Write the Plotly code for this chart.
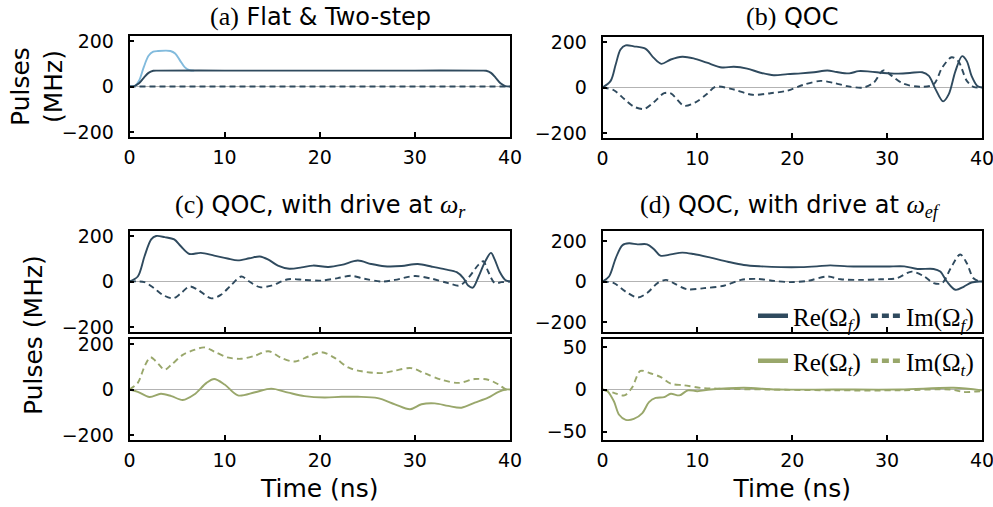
import plotly.graph_objects as go

# ---------------- data ----------------
# (a) Flat & Two-step
t_flat = [0, 0.5, 1.0, 1.5, 2.0, 2.5, 3.0, 10, 20, 30, 37.0, 37.5, 38.0, 38.5, 39.0, 39.5, 40.0]
flat_re = [0, 2, 14, 38, 60, 69, 70, 70, 70, 70, 70, 69, 60, 38, 14, 2, 0]
t_two = [0, 0.6, 1.0, 1.5, 2.0, 2.5, 3.0, 4.3, 4.8, 5.3, 5.8, 6.3, 6.8]
two_re = [0, 3, 25, 85, 135, 153, 156, 156, 145, 115, 85, 72, 70]
t_im_a = [0, 40]
im_a = [0, 0]

# (b) QOC
t_b_re = [0, 0.86, 1.39, 1.9, 2.44, 3.3, 4.55, 5.4, 6.2, 7.2, 8.4, 9.6, 11.0, 12.6, 13.85,
          15.25, 16.65, 18.05, 19.5, 20.9, 22.3, 23.7, 24.7, 26.0, 27.0, 28.2, 29.6, 31.0,
          32.4, 33.7, 34.4, 35.1, 35.9, 36.5, 37.2, 37.9, 38.4, 38.9, 39.5, 40.0]
b_re = [0, 29, 101, 167, 185, 181, 170, 130, 104, 123, 135, 128, 109, 88, 91,
        83, 65, 54, 59, 62, 67, 75, 68, 62, 72, 70, 64, 61,
        64, 67, 51, -7, -61, -29, 72, 138, 116, 51, 7, 0]
t_b_im = [0, 1.2, 2.3, 3.3, 4.4, 5.4, 6.5, 7.2, 8.6, 9.8, 11.0, 11.9, 13.85, 15.8, 17.7,
          19.5, 21.2, 23.0, 24.4, 25.8, 27.5, 28.6, 29.6, 30.5, 31.7, 33.5, 34.9, 35.8,
          36.8, 37.5, 38.4, 39.1, 40.0]
b_im = [0, -12, -51, -84, -94, -65, -25, -26, -80, -65, -29, 3, -9, -32, -25,
        -14, 12, 29, 20, 6, 0, 22, 75, 51, 17, 3, 14, 87,
        133, 116, 29, 3, 0]

# (c) QOC, drive at omega_r : f pulses
t_c_re = [0, 0.87, 1.58, 2.28, 2.8, 3.7, 4.7, 5.4, 6.3, 7.5, 8.9, 10.3, 11.4, 12.6, 13.7,
          14.6, 15.6, 16.8, 18.1, 19.3, 20.9, 22.3, 24.0, 25.4, 26.8, 28.6, 30.3, 31.8,
          33.2, 34.4, 35.1, 35.6, 36.1, 36.7, 37.4, 38.0, 38.4, 38.9, 39.5, 40.0]
c_re = [0, 22, 111, 185, 200, 195, 185, 155, 121, 126, 114, 101, 93, 102, 110,
        96, 70, 56, 62, 70, 64, 73, 92, 77, 67, 68, 77, 65,
        53, 41, 15, -18, -27, 22, 89, 126, 96, 44, 7, 0]
t_c_im = [0, 1.58, 2.6, 3.5, 4.6, 5.4, 6.3, 7.2, 8.6, 9.6, 10.7, 11.75, 12.6, 13.7, 14.9,
          16.7, 18.4, 20.2, 21.9, 23.3, 24.7, 26.5, 27.9, 30.0, 31.8, 33.5, 34.7, 35.6,
          36.7, 37.2, 37.7, 38.4, 39.1, 40.0]
c_im = [0, -3, -30, -59, -74, -52, -22, -37, -74, -59, -15, 22, 0, -25, -18,
        10, 7, 4, 15, 25, 12, 0, 7, 24, 12, -7, -18, 15,
        74, 89, 44, -7, -3, 0]
# (c) t pulses
t_ct_re = [0, 0.87, 2.1, 3.3, 4.4, 5.6, 6.8, 8.1, 8.9, 10.0, 11.4, 13.2, 14.9, 16.7, 18.4,
           20.5, 22.3, 24.0, 26.1, 27.9, 29.5, 30.7, 32.1, 33.5, 34.9, 36.3, 37.7, 38.8,
           39.6, 40.0]
ct_re = [0, -10, -33, -19, -29, -46, -22, 29, 46, 22, -26, -12, 4, -14, -29,
         -35, -32, -32, -38, -65, -87, -65, -61, -72, -80, -58, -36, -10,
         0, 0]
t_ct_im = [0, 0.87, 1.58, 2.2, 2.8, 3.7, 4.4, 5.6, 6.8, 7.9, 8.9, 10.3, 11.75, 13.2, 14.6,
           16.0, 17.4, 18.8, 20.2, 21.6, 23.0, 24.4, 26.5, 27.9, 29.6, 31.0, 32.8, 34.6,
           36.3, 37.7, 38.8, 39.6, 40.0]
ct_im = [0, 29, 101, 142, 123, 87, 109, 152, 174, 185, 167, 141, 135, 149, 168,
         138, 123, 145, 164, 138, 97, 80, 72, 83, 94, 72, 43, 29,
         46, 43, 22, 0, 0]

# (d) QOC, drive at omega_ef : f pulses
t_d_re = [0, 0.69, 1.39, 2.1, 2.8, 3.7, 4.7, 5.4, 6.1, 7.2, 8.4, 9.6, 11.4, 13.2, 14.9,
          16.7, 18.8, 20.9, 22.6, 24.0, 25.8, 27.9, 30.0, 31.8, 33.2, 34.9, 35.6, 36.3,
          37.2, 38.1, 38.9, 39.8, 40.0]
d_re = [0, 25, 115, 180, 189, 184, 184, 161, 128, 134, 143, 136, 118, 98, 82,
        75, 71, 71, 75, 80, 75, 74, 74, 75, 62, 62, 49, 0,
        -41, -25, -5, 0, 0]
t_d_im = [0, 1.2, 2.4, 3.7, 4.7, 5.8, 6.7, 7.5, 8.9, 10.7, 12.8, 14.6, 16.3, 18.1, 19.8,
          21.6, 23.7, 25.1, 27.2, 29.3, 31.0, 32.6, 33.9, 34.9, 35.8, 36.7, 37.7, 38.4,
          39.1, 39.8, 40.0]
d_im = [0, -8, -49, -79, -57, -8, 8, -8, -38, -33, -21, 8, 13, 3, -3,
        3, 25, 11, 8, 11, 16, 49, 25, -8, -8, 66, 134, 90,
        16, 0, 0]
# (d) t pulses
t_dt_re = [0, 0.52, 1.2, 1.75, 2.45, 3.3, 4.2, 4.9, 5.6, 6.5, 7.2, 8.1, 9.0, 10.0, 11.4,
           14.9, 18.4, 24.4, 31.4, 37.0, 40.0]
dt_re = [0, -2, -14, -30, -36, -35, -28, -15, -10, -9, -5, -7, -1, -2, 0,
         2, 0, 0, 0, 2, -1]
t_dt_im = [0, 1.2, 2.3, 3.1, 4.0, 5.1, 6.1, 7.2, 8.6, 10.3, 12.1, 17.4, 24.4, 31.4, 36.7,
           38.1, 39.8, 40.0]
dt_im = [0, -4, -7, 2, 22, 19, 15, 7, 5, 2, 1, 0, -1, -1, 0,
         -3, -2, -2]

x_ticks = [0, 10, 20, 30, 40]
big_ticks = [-200, 0, 200]
small_ticks = [-50, 0, 50]
legend_f = ["Re(Ω<sub><i>f</i></sub>)", "Im(Ω<sub><i>f</i></sub>)"]
legend_t = ["Re(Ω<sub><i>t</i></sub>)", "Im(Ω<sub><i>t</i></sub>)"]

# ---------------- style ----------------
DARK = "#2f4a5e"
LIGHT = "#82bbdd"
OLIVE = "#99a76b"
SANS = "DejaVu Sans"
SERIF = "Liberation Serif"
DASH = "6px,4px"
TICKF = 19
LABF = 25
TITF = 24

fig = go.Figure()


def line(x, y, color, dash, ax, width=1.9):
    fig.add_trace(go.Scatter(
        x=x, y=y, mode="lines", xaxis="x" + ax, yaxis="y" + ax,
        line=dict(color=color, width=width, dash=dash, shape="spline", smoothing=0.9),
        showlegend=False, hoverinfo="skip"))


def legend_item(name, color, dash, ax, legend):
    fig.add_trace(go.Scatter(
        x=[None], y=[None], mode="lines", xaxis="x" + ax, yaxis="y" + ax,
        name=name, legend=legend, line=dict(color=color, width=4.5, dash=dash),
        showlegend=True))


# panel a
line(t_im_a, im_a, DARK, DASH, "")
line(t_two, two_re, LIGHT, "solid", "")
line(t_flat, flat_re, DARK, "solid", "")
# panel b
line(t_b_im, b_im, DARK, DASH, "2")
line(t_b_re, b_re, DARK, "solid", "2")
# panel c
line(t_c_im, c_im, DARK, DASH, "3")
line(t_c_re, c_re, DARK, "solid", "3")
line(t_ct_im, ct_im, OLIVE, DASH, "4")
line(t_ct_re, ct_re, OLIVE, "solid", "4")
# panel d
line(t_d_im, d_im, DARK, DASH, "5")
line(t_d_re, d_re, DARK, "solid", "5")
line(t_dt_im, dt_im, OLIVE, DASH, "6")
line(t_dt_re, dt_re, OLIVE, "solid", "6")
legend_item(legend_f[0], DARK, "solid", "5", "legend")
legend_item(legend_f[1], DARK, "7px,4px", "5", "legend")
legend_item(legend_t[0], OLIVE, "solid", "6", "legend2")
legend_item(legend_t[1], OLIVE, "7px,4px", "6", "legend2")

W, H = 993, 507
XL = [129.5 / W, 510 / W]
XR = [602.5 / W, 982 / W]


def ydom(top, bottom):
    return [1 - bottom / H, 1 - top / H]


common_x = dict(range=[0, 40], tickvals=x_ticks, ticks="inside", ticklen=5, tickwidth=1.5,
                tickcolor="black", showline=True, linecolor="black", linewidth=1.6,
                mirror=True, showgrid=False, zeroline=False, automargin=False,
                ticklabeloverflow="allow", ticklabelstandoff=2,
                tickfont=dict(family=SANS, size=TICKF, color="black"))
common_y = dict(ticks="inside", ticklen=5, tickwidth=1.5, tickcolor="black",
                showline=True, linecolor="black", linewidth=1.6, mirror=True, automargin=False,
                ticklabeloverflow="allow", ticklabelstandoff=10,
                showgrid=False, zeroline=True, zerolinecolor="#b3b3b3", zerolinewidth=1,
                tickfont=dict(family=SANS, size=TICKF, color="black"))

xt = dict(text="Time (ns)", font=dict(family=SANS, size=LABF, color="black"), standoff=10)

fig.update_layout(
    width=W, height=H, margin=dict(l=0, r=0, t=0, b=0, autoexpand=False),
    paper_bgcolor="white", plot_bgcolor="white",
    xaxis=dict(common_x, domain=XL, anchor="y"),
    yaxis=dict(common_y, domain=ydom(36, 137), anchor="x", range=[-222, 222], tickvals=big_ticks),
    xaxis2=dict(common_x, domain=XR, anchor="y2"),
    yaxis2=dict(common_y, domain=ydom(37, 138), anchor="x2", range=[-222, 222], tickvals=big_ticks),
    xaxis3=dict(common_x, domain=XL, anchor="y3", showticklabels=False),
    yaxis3=dict(common_y, domain=ydom(231, 332), anchor="x3", range=[-222, 222], tickvals=big_ticks),
    xaxis4=dict(common_x, domain=XL, anchor="y4", title=xt),
    yaxis4=dict(common_y, domain=ydom(339, 440), anchor="x4", range=[-222, 222], tickvals=big_ticks),
    xaxis5=dict(common_x, domain=XR, anchor="y5", showticklabels=False),
    yaxis5=dict(common_y, domain=ydom(231, 332), anchor="x5", range=[-250, 250], tickvals=big_ticks),
    xaxis6=dict(common_x, domain=XR, anchor="y6", title=xt),
    yaxis6=dict(common_y, domain=ydom(339, 440), anchor="x6", range=[-60, 60], tickvals=small_ticks),
    legend=dict(orientation="h", x=979 / W, xanchor="right", y=1 - 316 / H, yanchor="middle",
                bgcolor="rgba(0,0,0,0)", font=dict(family=SERIF, size=25, color="black"),
                itemwidth=30, tracegroupgap=0),
    legend2=dict(orientation="h", x=979 / W, xanchor="right", y=1 - 361 / H, yanchor="middle",
                 bgcolor="rgba(0,0,0,0)", font=dict(family=SERIF, size=25, color="black"),
                 itemwidth=30, tracegroupgap=0),
    showlegend=True,
)


def serif(s, size=26):
    return f'<span style="font-family:{SERIF};font-size:{size}px">{s}</span>'


titles = [
    (320, 17, serif("(a)") + " Flat &amp; Two-step"),
    (792, 17, serif("(b)") + " QOC"),
    (320, 206, serif("(c)") + " QOC, with drive at " + serif("<i>ω</i><sub><i>r</i></sub>")),
    (790, 206, serif("(d)") + " QOC, with drive at " + serif("<i>ω</i><sub><i>ef</i></sub>")),
]
for x, y, txt in titles:
    fig.add_annotation(x=x / W, y=1 - y / H, xref="paper", yref="paper", text=txt,
                       showarrow=False, xanchor="center", yanchor="middle",
                       font=dict(family=SANS, size=TITF, color="black"))

fig.add_annotation(x=37 / W, y=1 - 87 / H, xref="paper", yref="paper", text="Pulses<br>(MHz)",
                   textangle=-90, showarrow=False, xanchor="center", yanchor="middle",
                   font=dict(family=SANS, size=LABF, color="black"))
fig.add_annotation(x=33 / W, y=1 - 335 / H, xref="paper", yref="paper", text="Pulses (MHz)",
                   textangle=-90, showarrow=False, xanchor="center", yanchor="middle",
                   font=dict(family=SANS, size=LABF, color="black"))

fig.write_html("out.html", config={"displayModeBar": False},
               post_script="document.body.style.margin='0';")
